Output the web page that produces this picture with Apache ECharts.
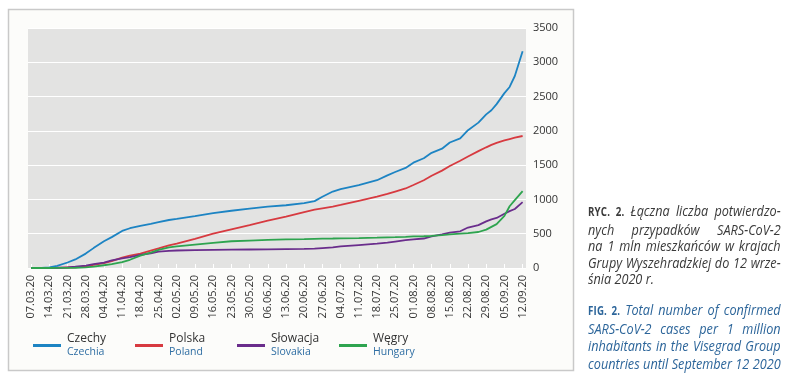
<!DOCTYPE html>
<html><head><meta charset="utf-8">
<script src="https://cdn.jsdelivr.net/npm/echarts@6/dist/echarts.min.js"></script>
<style>
html,body{margin:0;padding:0;background:#fff;}
#wrap{position:relative;width:800px;height:381px;overflow:hidden;}
#chart{position:absolute;left:0;top:0;width:800px;height:381px;}
.cap{position:absolute;left:588px;width:228px;font-family:"Open Sans",sans-serif;font-style:italic;font-size:15px;transform:scaleX(0.845);transform-origin:0 0;}
.cap div{white-space:nowrap;text-align:justify;text-align-last:justify;}
.cap div.last{text-align:left;text-align-last:left;}
.pl{top:202px;color:#3a3a3a;line-height:16.6px;}
.en{top:301px;color:#2c659a;line-height:17.6px;}
.lbl{font-style:normal;font-weight:bold;font-size:11.5px;letter-spacing:0.2px;}
</style>
</head><body>
<div id="wrap">
<div id="chart"></div>
<div class="cap pl">
<div><span class="lbl">RYC. 2.</span> Łączna liczba potwierdzo-</div>
<div>nych przypadków SARS-CoV-2</div>
<div>na 1 mln mieszkańców w krajach</div>
<div>Grupy Wyszehradzkiej do 12 wrze-</div>
<div class="last">śnia 2020 r.</div>
</div>
<div class="cap en">
<div><span class="lbl">FIG. 2.</span> Total number of confirmed</div>
<div>SARS-CoV-2 cases per 1 million</div>
<div>inhabitants in the Visegrad Group</div>
<div>countries until September 12 2020</div>
</div>
</div>
<script>
// x tick labels (one every 7 days from 07.03.20)
const tickLabels = ['07.03.20','14.03.20','21.03.20','28.03.20','04.04.20','11.04.20','18.04.20','25.04.20','02.05.20','09.05.20','16.05.20','23.05.20','30.05.20','06.06.20','13.06.20','20.06.20','27.06.20','04.07.20','11.07.20','18.07.20','25.07.20','01.08.20','08.08.20','15.08.20','22.08.20','29.08.20','05.09.20','12.09.20'];
// sample days (days since 07.03.20) at which values were read
const sampleDays = [0,4,7,10,14,17,21,24,28,31,35,38,42,46,49,53,56,63,70,77,84,91,98,105,109,112,116,119,126,133,137,140,144,147,151,154,158,161,165,168,172,175,177,179,182,184,186,189];
const czechy = [0,3,10,32,80,125,210,290,390,450,540,580,615,645,670,700,715,755,800,835,865,895,915,945,975,1040,1115,1150,1210,1280,1350,1400,1460,1536,1600,1680,1740,1830,1890,2010,2120,2240,2300,2390,2550,2640,2800,3160];
const polska = [0,0,1,3,7,10,25,45,70,100,150,180,210,255,285,330,355,425,500,565,627,690,750,815,850,870,895,920,980,1040,1080,1115,1160,1210,1280,1345,1420,1487,1565,1625,1705,1760,1795,1825,1860,1880,1900,1925];
const slowacja = [0,0,1,4,10,20,35,55,80,110,140,160,190,215,240,250,255,262,265,268,270,272,275,278,282,290,300,315,335,355,370,385,405,418,430,460,490,515,535,590,625,680,710,730,790,830,860,960];
const wegry = [0,0,0,1,2,4,10,20,40,55,85,120,180,225,265,300,315,340,365,390,400,410,418,420,425,428,430,432,436,442,447,450,455,460,463,467,480,490,500,508,525,560,600,640,760,900,990,1120];
const seriesNames = ['Czechy','Polska','Słowacja','Węgry'];
const seriesNamesEn = ['Czechia','Poland','Slovakia','Hungary'];
const seriesColors = ['#1d84c3','#d73a40','#6a2d8c','#2ea44f'];
const yTicks = {min:0, max:3500, interval:500};

const tickDays = tickLabels.map((_, i) => i * 7);
const values = [czechy, polska, slowacja, wegry];
const chart = echarts.init(document.getElementById('chart'), null, {renderer:'canvas'});
const font = '"Open Sans", sans-serif';
chart.setOption({
  animation:false,
  backgroundColor:'#fff',
  textStyle:{fontFamily:font},
  graphic:[{type:'rect', z:-10, shape:{x:8.5,y:9.5,width:565,height:361}, style:{fill:'#fcfcfa', stroke:'#c9c9c9', lineWidth:1.5}}],
  grid:{left:28, top:28, right:274, bottom:113, show:true, backgroundColor:'#e3e3e2', borderWidth:0, containLabel:false},
  xAxis:{type:'value', min:-1.2, max:190.3,
    splitLine:{show:false},
    axisLine:{show:false},
    axisTick:{show:true, inside:true, length:4, customValues:tickDays, lineStyle:{color:'#ffffff', width:1}},
    axisLabel:{customValues:tickDays, rotate:90, margin:7, color:'#333', fontSize:11, fontFamily:font,
      formatter:(v)=>tickLabels[Math.round(v/7)]}
  },
  yAxis:{type:'value', position:'right', min:yTicks.min, max:yTicks.max, interval:yTicks.interval,
    axisLine:{show:false}, axisTick:{show:false},
    splitLine:{lineStyle:{color:'#ffffff', width:1.2}},
    axisLabel:{color:'#333', fontSize:11, margin:7, fontFamily:font, formatter:(v)=>String(v)}
  },
  legend:{left:28, top:328, itemGap:0, itemWidth:28, itemHeight:3, icon:'rect',
    data:seriesNames,
    formatter:(n)=>'{a|'+n+'}\n{b|'+seriesNamesEn[seriesNames.indexOf(n)]+'}',
    textStyle:{padding:[0,0,0,1], rich:{
      a:{fontSize:12, color:'#333', width:68, lineHeight:13, fontFamily:font},
      b:{fontSize:10.5, color:'#2f6ea3', width:68, lineHeight:13, fontFamily:font}}}
  },
  series: seriesNames.map((n,i)=>({
    name:n, type:'line', showSymbol:false, symbol:'none',
    lineStyle:{width:1.8, color:seriesColors[i]}, itemStyle:{color:seriesColors[i]},
    data: sampleDays.map((d,k)=>[d, values[i][k]])
  }))
});
</script>
</body></html>
